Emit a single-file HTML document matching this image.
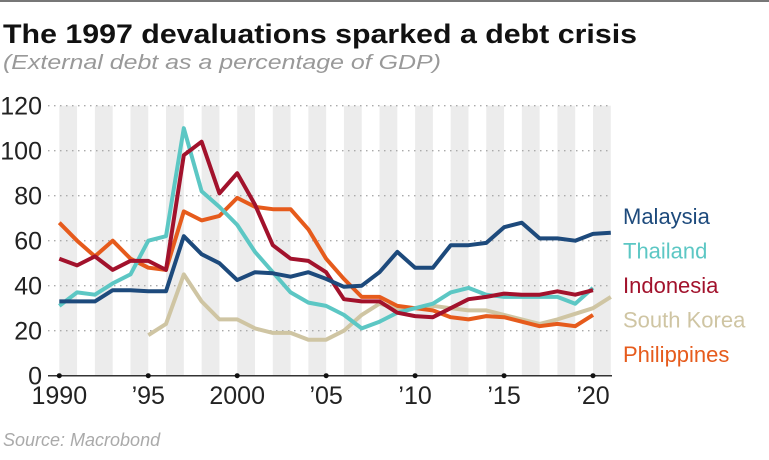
<!DOCTYPE html>
<html><head><meta charset="utf-8"><style>
body{margin:0;background:#fff;}
svg{display:block;font-family:"Liberation Sans",sans-serif;}
</style></head><body>
<svg width="769" height="460" viewBox="0 0 769 460">
<line x1="0" y1="1" x2="769" y2="1" stroke="#777" stroke-width="2"/>
<text x="3" y="43" font-size="27" font-weight="bold" fill="#111" textLength="634" lengthAdjust="spacingAndGlyphs">The 1997 devaluations sparked a debt crisis</text>
<text x="3" y="69" font-size="20" font-style="italic" fill="#999" textLength="438" lengthAdjust="spacingAndGlyphs">(External debt as a percentage of GDP)</text>
<g id="bands"></g><g id="grid"></g><g id="axes"></g><g id="lines"></g><g id="legend"></g>
<text x="3" y="446" font-size="18" font-style="italic" fill="#aaa">Source: Macrobond</text>
</svg>
<script>
const years=[1990,1991,1992,1993,1994,1995,1996,1997,1998,1999,2000,2001,2002,2003,2004,2005,2006,2007,2008,2009,2010,2011,2012,2013,2014,2015,2016,2017,2018,2019,2020,2021];
const malaysia=[33,33,33,38,38,37.5,37.5,62,54,50,42.5,46,45.5,44,46,43,39.5,40,46,55,48,48,58,58,59,66,68,61,61,60,63,63.5];
const thailand=[31,37,36,41,45,60,62,110,82,75,67,55,46,37,32.5,31,27,21,24,28,30,32,37,39,36,35,35,35,35,32,39,null];
const indonesia=[52,49,53,47,51,51,47,98,104,81,90,76,58,52,51,46,34,33,33,28,26.5,26,30,34,35,36.5,36,36,37.5,36,38,null];
const southKorea=[null,null,null,null,null,18,23,45,33,25,25,21,19,19,16,16,20,27,32,30,30,31,30,29,29,27,25,23,25,27.5,30,35];
const philippines=[68,60,53,60,52,48,47,73,69,71,79,75,74,74,65,52,43,35,35,31,30,29,26,25,26.5,26,24,22,23,22,27,null];
const yTicks=[0,20,40,60,80,100,120];
const xTickYears=[1990,1995,2000,2005,2010,2015,2020];
const xTickLabels=["1990","\u201995","2000","\u201905","\u201910","\u201915","\u201920"];
const seriesNames=["Malaysia","Thailand","Indonesia","South Korea","Philippines"];
const seriesColors=["#1d4a7c","#5cc7c4","#a2122c","#cfc5a3","#e65b1c"];
const seriesData=[malaysia,thailand,indonesia,southKorea,philippines];
const NS="http://www.w3.org/2000/svg";
const X=y=>59.3+(y-1990)*17.79;
const Y=v=>375.7-v*2.25;
function mk(t,a,p){const e=document.createElementNS(NS,t);for(const k in a)e.setAttribute(k,a[k]);p.appendChild(e);return e;}
const bands=document.getElementById('bands'),grid=document.getElementById('grid'),axes=document.getElementById('axes'),lines=document.getElementById('lines'),legend=document.getElementById('legend');
for(let y=1990;y<=2020;y+=2){const r=mk('rect',{x:X(y),y:Y(120),width:X(y+1)-X(y),height:Y(0)-Y(120),fill:'#ececec'},bands);

}
yTicks.forEach(v=>{if(v>0){const l=mk('line',{x1:48,x2:612,y1:Y(v),y2:Y(v),stroke:'#aaa','stroke-width':1.3,'stroke-dasharray':'1.5 4.5'},grid);

}
const t=mk('text',{x:42,y:Y(v)+9,'font-size':25,'text-anchor':'end',fill:'#222'},axes);t.textContent=v;

});
const ax=mk('line',{x1:48,x2:612,y1:Y(0),y2:Y(0),stroke:'#333','stroke-width':1.5},axes);


xTickYears.forEach((y,i)=>{const c=mk('circle',{cx:X(y),cy:Y(0),r:2.5,fill:'#111'},axes);


const t=mk('text',{x:X(y),y:404,'font-size':25,'text-anchor':'middle',fill:'#222'},axes);t.textContent=xTickLabels[i];

});
[3,4,1,2,0].forEach(si=>{let d='',pen=false;seriesData[si].forEach((v,i)=>{if(v==null){pen=false;return;}d+=(pen?'L':'M')+X(years[i]).toFixed(1)+' '+Y(v).toFixed(1);pen=true;});
const p=mk('path',{d:d,fill:'none',stroke:seriesColors[si],'stroke-width':4,'stroke-linejoin':'round'},lines);

});
seriesNames.forEach((n,i)=>{const t=mk('text',{x:623,y:224+i*34.5,'font-size':22,fill:seriesColors[i]},legend);t.textContent=n;

});
</script>
</body></html>
